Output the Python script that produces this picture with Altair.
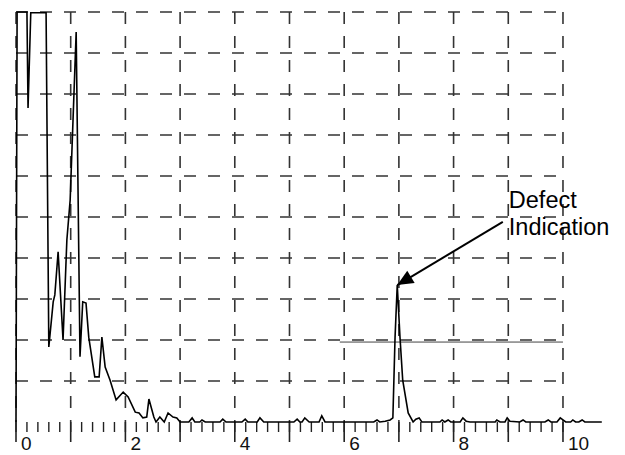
import altair as alt
import pandas as pd

# A-scan trace (time base units, screen height units)
TRACE_X = [0.00, 0.02, 0.20, 0.22, 0.27, 0.55, 0.60, 0.68, 0.71, 0.77, 0.86, 0.93, 0.99, 1.10,
           1.17, 1.22, 1.28, 1.33, 1.44, 1.52, 1.57, 1.63, 1.72, 1.83, 1.96, 2.05, 2.18, 2.25,
           2.32, 2.39, 2.43, 2.52, 2.56, 2.63, 2.71, 2.78, 2.87, 2.94, 3.00,
           3.16, 3.22, 3.27, 3.36, 3.40, 3.46, 3.73, 3.78, 3.84, 4.13, 4.19, 4.24, 4.41, 4.46,
           4.53, 5.08, 5.14, 5.19, 5.23, 5.28, 5.36, 5.54, 5.59, 5.65, 6.54, 6.60, 6.65, 6.75,
           6.84, 6.89, 6.93, 6.97, 7.02, 7.07, 7.17, 7.26, 7.31, 7.37, 7.42, 7.75, 7.79, 7.84,
           7.90, 7.95, 8.12, 8.17, 8.23, 8.30, 8.76, 8.79, 8.85, 8.94, 8.98, 9.03, 9.21, 9.27,
           9.32, 9.67, 9.73, 9.78, 9.89, 9.95, 10.00, 10.05, 10.14, 10.18, 10.23, 10.29, 10.35,
           10.40, 10.71]
TRACE_Y = [0.00, 10.0, 10.0, 7.66, 9.98, 9.98, 1.83, 2.93, 3.10, 4.15, 2.00, 4.44, 5.41, 9.51,
           1.59, 2.93, 2.90, 2.07, 1.10, 1.10, 2.07, 1.34, 1.02, 0.54, 0.73, 0.61, 0.24, 0.22,
           0.10, 0.12, 0.56, 0.12, 0.00, 0.12, 0.00, 0.22, 0.12, 0.10, 0.00,
           0.00, 0.10, 0.00, 0.00, 0.05, 0.00, 0.00, 0.07, 0.00, 0.00, 0.07, 0.00, 0.00, 0.10,
           0.00, 0.00, 0.07, 0.00, 0.00, 0.10, 0.00, 0.00, 0.15, 0.00, 0.00, 0.05, 0.00, 0.02,
           0.05, 0.10, 2.07, 3.34, 2.07, 1.02, 0.22, 0.00, 0.07, 0.10, 0.00, 0.00, 0.05, 0.00,
           0.05, 0.00, 0.00, 0.10, 0.02, 0.00, 0.00, 0.05, 0.00, 0.00, 0.10, 0.02, 0.00, 0.05,
           0.00, 0.00, 0.05, 0.00, 0.00, 0.10, 0.05, 0.00, 0.00, 0.05, 0.00, 0.00, 0.05,
           0.00, 0.00]

GRID_Y = [1, 2, 3, 4, 5, 6, 7, 8, 9, 10]
GRID_X = [0, 1, 2, 3, 4, 5, 6, 7, 8, 9, 10]
MINOR_TICKS = [round(0.2 * i, 1) for i in range(51)]
MAJOR_TICKS = [0, 1, 2, 3, 4, 5, 6, 7, 8, 9, 10]
TICK_LABEL_POS = [0, 2, 4, 6, 8, 10]
TICK_LABELS = ["0", "2", "4", "6", "8", "10"]

GATE_START = [5.92]
GATE_END = [10.0]
GATE_LEVEL = [1.95]

ARROW_TAIL_X = [8.90]
ARROW_TAIL_Y = [4.88]
ARROW_TIP_X = [6.97]
ARROW_TIP_Y = [3.34]
NOTE_X = [9.01]
NOTE_Y = [5.22]
NOTE_TEXT = ["Defect", "Indication"]

W, H = 588, 410
xs = alt.Scale(domain=[0, 10.75], nice=False, zero=False)
ys = alt.Scale(domain=[0, 10], nice=False, zero=False)
GRID_COLOR = "#333333"
DASH = [12, 12]

trace_df = pd.DataFrame({"x": TRACE_X, "y": TRACE_Y, "i": range(len(TRACE_X))})
hgrid_df = pd.DataFrame({"y": GRID_Y, "x0": [0] * len(GRID_Y), "x1": [10] * len(GRID_Y)})
vgrid_df = pd.DataFrame({"x": GRID_X, "top": [10] * len(GRID_X), "bot": [0] * len(GRID_X)})
minor_df = pd.DataFrame({"x": MINOR_TICKS})
major_df = pd.DataFrame({"x": MAJOR_TICKS})
label_df = pd.DataFrame({"x": TICK_LABEL_POS, "t": TICK_LABELS})
gate_df = pd.DataFrame({"x0": GATE_START, "x1": GATE_END, "y": GATE_LEVEL})
arrow_df = pd.DataFrame({"x0": ARROW_TAIL_X, "y0": ARROW_TAIL_Y, "x1": ARROW_TIP_X, "y1": ARROW_TIP_Y})
note_df = pd.DataFrame({"x": NOTE_X, "y": NOTE_Y})

hgrid = alt.Chart(hgrid_df).mark_rule(color=GRID_COLOR, strokeWidth=1.6, strokeDash=DASH).encode(
    x=alt.X("x0:Q", scale=xs, axis=None), x2="x1:Q",
    y=alt.Y("y:Q", scale=ys, axis=None))

vgrid = alt.Chart(vgrid_df).mark_rule(color=GRID_COLOR, strokeWidth=1.6, strokeDash=DASH).encode(
    x=alt.X("x:Q", scale=xs, axis=None),
    y=alt.Y("top:Q", scale=ys, axis=None), y2="bot:Q")

minor = alt.Chart(minor_df).mark_rule(color="#222222", strokeWidth=1.4).encode(
    x=alt.X("x:Q", scale=xs, axis=None), y=alt.value(H), y2=alt.value(H + 10))

major = alt.Chart(major_df).mark_rule(color="#222222", strokeWidth=1.6).encode(
    x=alt.X("x:Q", scale=xs, axis=None), y=alt.value(H), y2=alt.value(H + 20))

labels = alt.Chart(label_df).mark_text(
    align="left", baseline="alphabetic", dx=5, font="Liberation Sans", fontSize=19, color="#111111"
).encode(x=alt.X("x:Q", scale=xs, axis=None), y=alt.value(H + 28), text="t:N")

gate = alt.Chart(gate_df).mark_rule(color="#444444", strokeWidth=1).encode(
    x=alt.X("x0:Q", scale=xs, axis=None), x2="x1:Q",
    y=alt.Y("y:Q", scale=ys, axis=None))

trace = alt.Chart(trace_df).mark_line(color="#000000", strokeWidth=1.6, strokeJoin="miter").encode(
    x=alt.X("x:Q", scale=xs, axis=None),
    y=alt.Y("y:Q", scale=ys, axis=None),
    order="i:Q")

arrow_line = alt.Chart(arrow_df).mark_rule(color="#000000", strokeWidth=2).encode(
    x=alt.X("x0:Q", scale=xs, axis=None), y=alt.Y("y0:Q", scale=ys, axis=None),
    x2="x1:Q", y2="y1:Q")

arrow_head = alt.Chart(arrow_df).mark_point(
    shape="M0,0L-0.45,1L0.45,1Z", filled=True, color="#000000", opacity=1, size=1024, angle=239
).encode(x=alt.X("x1:Q", scale=xs, axis=None), y=alt.Y("y1:Q", scale=ys, axis=None))

note = alt.Chart(note_df).mark_text(
    text=NOTE_TEXT, align="left", baseline="alphabetic", font="Liberation Sans",
    fontSize=23.5, lineHeight=27, color="#000000"
).encode(x=alt.X("x:Q", scale=xs, axis=None), y=alt.Y("y:Q", scale=ys, axis=None))

chart = alt.layer(hgrid, vgrid, minor, major, labels, gate, trace, arrow_line, arrow_head, note).properties(
    width=W, height=H,
    autosize=alt.AutoSizeParams(type="none"),
    padding={"left": 8, "top": 4, "right": 13, "bottom": 31},
    background="white",
).configure_view(strokeWidth=0)

chart.save("out.html", embed_options={"renderer": "svg", "actions": False})
